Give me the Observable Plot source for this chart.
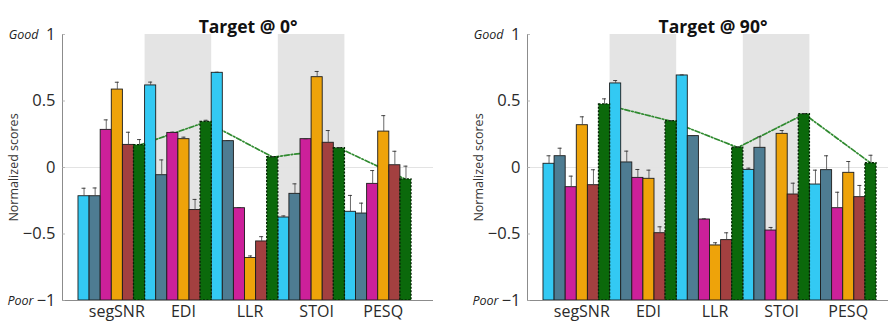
<!DOCTYPE html>
<html><head><meta charset="utf-8">
<script src="https://cdn.jsdelivr.net/npm/d3@7"></script>
<script src="https://cdn.jsdelivr.net/npm/@observablehq/plot@0.6"></script>
<style>
body{margin:0;background:#fff;}
#wrap{width:888px;height:324px;overflow:hidden;display:flex;}
#wrap > *{flex:0 0 auto;}
svg{font-family:"Open Sans",sans-serif;}
</style></head><body><div id="wrap"></div>
<script>
// Categories
const metrics = ["segSNR", "EDI", "LLR", "STOI", "PESQ"];
const shadedMetrics = ["EDI", "STOI"];
const seriesNames = ["S1", "S2", "S3", "S4", "S5", "S6"];
const seriesColors = ["#33c9f3", "#4e7c92", "#cc209a", "#eea30a", "#a34040", "#0b690b"];
const yTicks = [-1, -0.5, 0, 0.5, 1];
const titles = ["Target @ 0°", "Target @ 90°"];

// Target @ 0° : values per series across metrics (segSNR, EDI, LLR, STOI, PESQ)
const s1At0 = [-0.216, 0.617, 0.712, -0.376, -0.333];
const s2At0 = [-0.216, -0.058, 0.198, -0.198, -0.346];
const s3At0 = [0.283, 0.26, -0.306, 0.213, -0.123];
const s4At0 = [0.586, 0.213, -0.68, 0.679, 0.27];
const s5At0 = [0.17, -0.32, -0.556, 0.186, 0.017];
const s6At0 = [0.168, 0.343, 0.078, 0.145, -0.09];
const s1ErrAt0 = [0.06, 0.025, 0.004, 0.012, 0.123];
const s2ErrAt0 = [0.062, 0.115, 0.005, 0.075, 0.078];
const s3ErrAt0 = [0.075, 0.006, 0.005, 0.003, 0.1];
const s4ErrAt0 = [0.055, 0.015, 0.015, 0.043, 0.12];
const s5ErrAt0 = [0.095, 0.08, 0.036, 0.092, 0.105];
const s6ErrAt0 = [0.042, 0.012, 0.003, 0.004, 0.1];

// Target @ 90°
const s1At90 = [0.028, 0.632, 0.692, -0.018, -0.128];
const s2At90 = [0.085, 0.038, 0.236, 0.148, -0.02];
const s3At90 = [-0.148, -0.078, -0.391, -0.474, -0.306];
const s4At90 = [0.318, -0.085, -0.586, 0.253, -0.04];
const s5At90 = [-0.133, -0.494, -0.546, -0.203, -0.223];
const s6At90 = [0.474, 0.348, 0.15, 0.401, 0.032];
const s1ErrAt90 = [0.06, 0.022, 0.004, 0.013, 0.108];
const s2ErrAt90 = [0.06, 0.085, 0.004, 0.083, 0.108];
const s3ErrAt90 = [0.083, 0.063, 0.005, 0.023, 0.12];
const s4ErrAt90 = [0.063, 0.065, 0.02, 0.025, 0.085];
const s5ErrAt90 = [0.116, 0.048, 0.055, 0.085, 0.088];
const s6ErrAt90 = [0.042, 0.004, 0.004, 0.004, 0.06];

const panels = [
  {title: titles[0], vals: [s1At0, s2At0, s3At0, s4At0, s5At0, s6At0], errs: [s1ErrAt0, s2ErrAt0, s3ErrAt0, s4ErrAt0, s5ErrAt0, s6ErrAt0]},
  {title: titles[1], vals: [s1At90, s2At90, s3At90, s4At90, s5At90, s6At90], errs: [s1ErrAt90, s2ErrAt90, s3ErrAt90, s4ErrAt90, s5ErrAt90, s6ErrAt90]}
];

const nS = seriesNames.length;
const xDomain = [0.26, 5.83];
const fmt = d => d < 0 ? "\u2212" + (-d) : String(d);

function makePanel(p) {
  const rows = [];
  metrics.forEach((m, gi) => {
    seriesNames.forEach((s, j) => {
      const g = gi + 1;
      rows.push({
        metric: m, series: s, j,
        value: p.vals[j][gi], err: p.errs[j][gi],
        x1: g - 0.5 + j / nS, x2: g - 0.5 + (j + 1) / nS,
        xc: g - 0.5 + (j + 0.5) / nS
      });
    });
  });
  const green = rows.filter(d => d.j === nS - 1);
  const others = rows.filter(d => d.j !== nS - 1);
  const shade = shadedMetrics.map(m => ({g: metrics.indexOf(m) + 1}));
  const capHalf = 0.03;
  return Plot.plot({
    width: 465, height: 324,
    marginLeft: 62, marginRight: 32, marginTop: 34, marginBottom: 24,
    style: {fontFamily: "'Open Sans', sans-serif", background: "white"},
    x: {domain: xDomain},
    y: {domain: [-1, 1]},
    color: {domain: seriesNames, range: seriesColors},
    marks: [
      Plot.rect(shade, {x1: d => d.g - 0.5, x2: d => d.g + 0.5, y1: -1, y2: 1, fill: "#e4e4e4"}),
      Plot.ruleY([0], {stroke: "#e3e3e3", strokeWidth: 1}),
      Plot.line(green, {x: "xc", y: "value", stroke: "#2f8a2f", strokeWidth: 1.7, strokeDasharray: "5,2,1.5,2"}),
      Plot.rect(others, {x1: "x1", x2: "x2", y1: -1, y2: "value", fill: "series", stroke: "#1c1c1c", strokeWidth: 0.9}),
      Plot.rect(green, {x1: "x1", x2: "x2", y1: -1, y2: "value", fill: "series", stroke: "#042404", strokeWidth: 1.3, strokeDasharray: "2,1.5"}),
      Plot.ruleX(rows, {x: "xc", y1: "value", y2: d => d.value + d.err, stroke: "#444", strokeWidth: 0.8}),
      Plot.ruleY(rows, {y: d => d.value + d.err, x1: d => d.xc - capHalf, x2: d => d.xc + capHalf, stroke: "#333", strokeWidth: 0.9}),
      // axis lines and inward ticks
      Plot.ruleX([xDomain[0]], {y1: -1, y2: 1, stroke: "#8c8c8c", strokeWidth: 1}),
      Plot.ruleY([-1], {x1: xDomain[0], x2: xDomain[1], stroke: "#8c8c8c", strokeWidth: 1}),
      Plot.ruleY(yTicks, {x1: xDomain[0], x2: xDomain[0] + 0.045, stroke: "#aaa", strokeWidth: 0.8}),
      Plot.axisY({ticks: yTicks, tickFormat: fmt, tickSize: 0, tickPadding: 7, fontSize: 16.5, color: "#2a2a2a", label: null}),
      Plot.axisX({ticks: [1, 2, 3, 4, 5], tickFormat: i => metrics[i - 1], tickSize: 0, tickPadding: 5, fontSize: 16, color: "#2a2a2a", label: null, dx: 5}),
      Plot.text(["Good"], {text: d => d, y: 1, frameAnchor: "left", dx: -24, textAnchor: "end", fontStyle: "italic", fontSize: 12.5, fill: "#222"}),
      Plot.text(["Poor"], {text: d => d, y: -1, frameAnchor: "left", dx: -29, textAnchor: "end", fontStyle: "italic", fontSize: 12.5, fill: "#222"}),
      Plot.text(["Normalized scores"], {text: d => d, frameAnchor: "left", dx: -49, rotate: -90, textAnchor: "middle", fontSize: 12.5, fill: "#333"}),
      Plot.text([p.title], {text: d => d, frameAnchor: "top", dy: -14, fontWeight: "bold", fontSize: 17.5, fill: "#111"})
    ]
  });
}

const wrap = document.getElementById("wrap");
panels.forEach(p => wrap.appendChild(makePanel(p)));
</script>
</body></html>
